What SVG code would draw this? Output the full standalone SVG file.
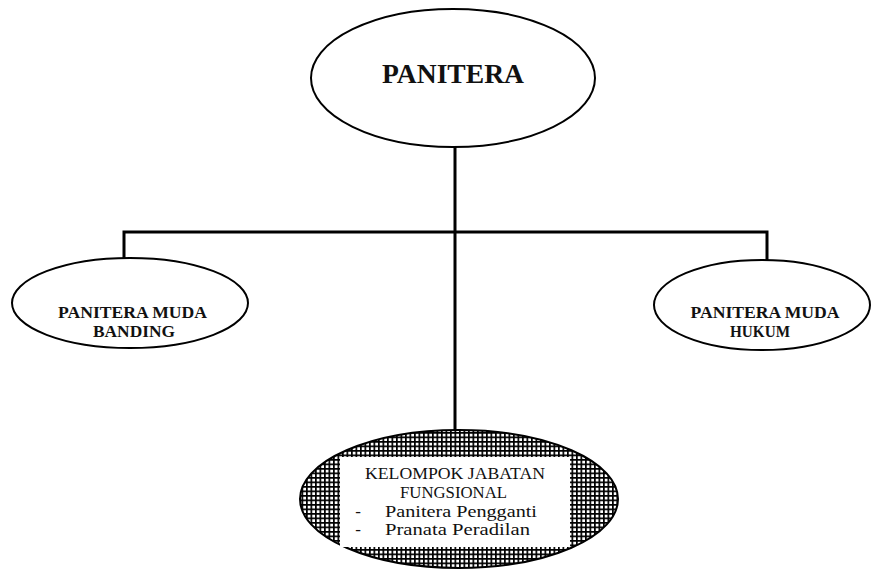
<svg xmlns="http://www.w3.org/2000/svg" width="871" height="573" viewBox="0 0 871 573">
<style>
.node{fill:#fff;stroke:#000;stroke-width:2}
.conn{fill:none;stroke:#000;stroke-width:3}
.t{font-family:"Liberation Serif",serif;fill:#111;text-anchor:middle}
.b{font-weight:bold}
.s{text-anchor:start}
</style>
<defs>
<pattern id="grid" width="4.5" height="4.5" patternUnits="userSpaceOnUse">
<rect width="4.5" height="4.5" fill="#fff"/>
<rect width="4.5" height="1.7" fill="#000"/>
<rect width="1.7" height="4.5" fill="#000"/>
</pattern>
</defs>
<rect width="871" height="573" fill="#fff"/>
<g id="connectors">
<path class="conn" d="M455 147 V430"/>
<path class="conn" d="M124 259 V232 H767 V261"/>
</g>
<g id="panitera">
<ellipse class="node" cx="453" cy="78" rx="142" ry="69"/>
<text class="t b" x="453" y="83" font-size="27" textLength="142" lengthAdjust="spacingAndGlyphs">PANITERA</text>
</g>
<g id="banding">
<ellipse class="node" cx="130" cy="303" rx="118" ry="45"/>
<text class="t b" x="132.5" y="318" font-size="17" textLength="149" lengthAdjust="spacingAndGlyphs">PANITERA MUDA</text>
<text class="t b" x="134" y="337" font-size="17" textLength="82" lengthAdjust="spacingAndGlyphs">BANDING</text>
</g>
<g id="hukum">
<ellipse class="node" cx="762" cy="305" rx="108" ry="45"/>
<text class="t b" x="765" y="318" font-size="17" textLength="149" lengthAdjust="spacingAndGlyphs">PANITERA MUDA</text>
<text class="t b" x="760" y="337" font-size="17" textLength="60" lengthAdjust="spacingAndGlyphs">HUKUM</text>
</g>
<g id="fungsional">
<ellipse cx="459" cy="499" rx="159" ry="69" fill="url(#grid)" stroke="#000" stroke-width="2"/>
<rect x="340" y="457" width="230" height="90" fill="#fff"/>
<text class="t" x="455" y="479" font-size="17" textLength="180" lengthAdjust="spacingAndGlyphs">KELOMPOK JABATAN</text>
<text class="t" x="453.5" y="498" font-size="17" textLength="107" lengthAdjust="spacingAndGlyphs">FUNGSIONAL</text>
<text class="t" x="358" y="517" font-size="17">-</text>
<text class="t s" x="385" y="517" font-size="17" textLength="152" lengthAdjust="spacingAndGlyphs">Panitera Pengganti</text>
<text class="t" x="358" y="535" font-size="17">-</text>
<text class="t s" x="385" y="535" font-size="17" textLength="145" lengthAdjust="spacingAndGlyphs">Pranata Peradilan</text>
</g>
</svg>
